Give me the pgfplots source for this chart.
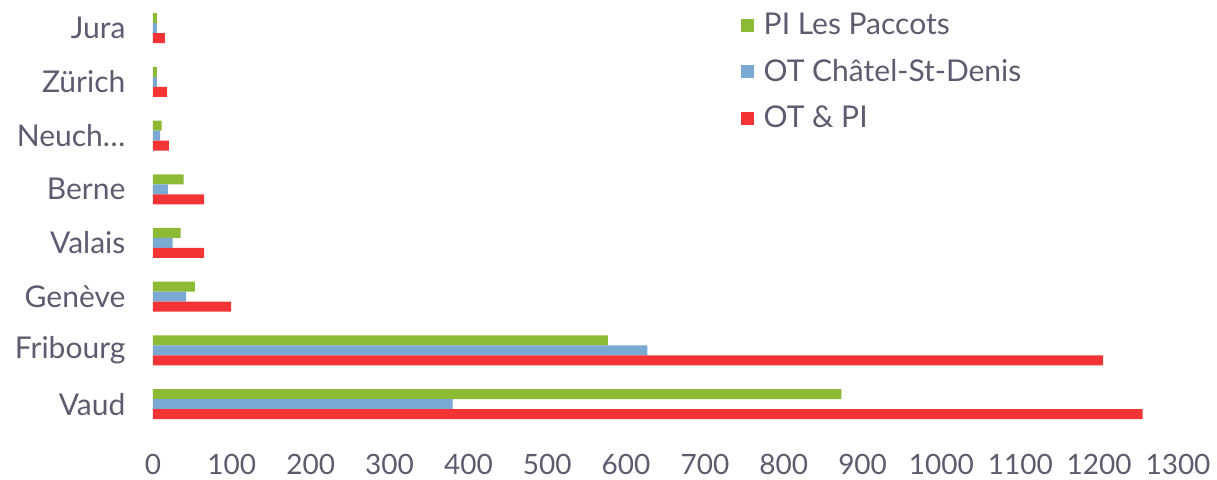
\documentclass[border=0pt]{standalone}
\usepackage{pgfplots}
\pgfplotsset{compat=1.18}
\usepackage{fontspec}
\setmainfont{Lato}
\definecolor{cgreen}{RGB}{140,186,52}
\definecolor{cblue}{RGB}{122,170,212}
\definecolor{cred}{RGB}{244,52,52}
\definecolor{ctext}{RGB}{95,90,112}
\begin{document}
\begin{tikzpicture}
\begin{axis}[
  scale only axis,
  width=512.5pt, height=214.9pt,
  xbar, bar width=5pt,
  xmin=0, xmax=1300, ymin=-0.5, ymax=7.5,
  axis line style={draw=none},
  tick style={draw=none},
  xtick={0,100,...,1300},
  ytick={0,...,7},
  yticklabels={Vaud,Fribourg,Gen\`eve,Valais,Berne,Neuch\ldots,Z\"urich,Jura},
  yticklabel style={font=\fontsize{15}{17}\selectfont, text=ctext, xshift=-6pt},
  xticklabel style={font=\fontsize{14}{16}\selectfont, text=ctext, yshift=-8pt},
  /pgf/number format/assume math mode=true,
  /pgf/number format/1000 sep={},
  legend style={draw=none, fill=none, at={(0.573,0.983)}, anchor=north west,
    font=\fontsize{15}{17}\selectfont, text=ctext, row sep=6.8pt,
    legend cell align=left, inner sep=0pt,
    nodes={inner xsep=5pt}},
  legend image code/.code={\fill[#1] (0pt,-3.25pt) rectangle (6.5pt,3.25pt);},
]
\addplot[draw=none, fill=cgreen, bar shift=5pt] coordinates {(873,0) (577,1) (53,2) (35,3) (39,4) (11,5) (5,6) (5,7)};
\addplot[draw=none, fill=cblue, bar shift=0pt] coordinates {(380,0) (627,1) (42,2) (25,3) (19,4) (9,5) (5,6) (5,7)};
\addplot[draw=none, fill=cred, bar shift=-5pt] coordinates {(1255,0) (1205,1) (99,2) (65,3) (65,4) (20,5) (18,6) (15,7)};
\legend{PI Les Paccots, OT Ch\^atel-St-Denis, OT \& PI}
\path (rel axis cs:0,0) coordinate (o);
\end{axis}
\pgfresetboundingbox
\path ([shift={(-76.5pt,-24pt)}]o) rectangle ([shift={(532pt,215.5pt)}]o);
\end{tikzpicture}
\end{document}
